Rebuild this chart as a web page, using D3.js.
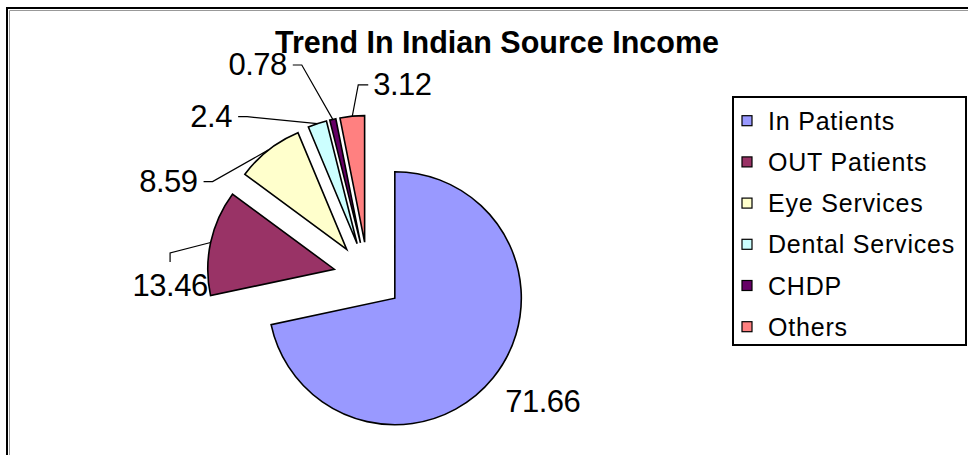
<!DOCTYPE html>
<html>
<head>
<meta charset="utf-8">
<script src="https://cdn.jsdelivr.net/npm/d3@7"></script>
<style>
  html, body { margin: 0; padding: 0; background: #fff; }
  svg { display: block; font-family: 'Liberation Sans', Arial, sans-serif; }
  .title { font-weight: bold; font-size: 30.5px; }
  .value-label { font-size: 31px; letter-spacing: -0.5px; }
  .legend-text { font-size: 25px; letter-spacing: 0.8px; }
</style>
</head>
<body>
<div id="chart"></div>
<script>
// chart data
const categories = ['In Patients', 'OUT Patients', 'Eye Services', 'Dental Services', 'CHDP', 'Others'];
const values = [71.66, 13.46, 8.59, 2.4, 0.78, 3.12];
const valueLabels = ['71.66', '13.46', '8.59', '2.4', '0.78', '3.12'];
const colors = ['#9999ff', '#993366', '#ffffcc', '#ccffff', '#660066', '#ff8080'];

// label placement relative to each slice's outer edge: dx, dy, text-anchor, leader side
const labelLayout = [
  [12, 34, 'start', 'none'],
  [-3, 53.5, 'end', 'top'],
  [-71, 41.7, 'end', 'right'],
  [-85.4, 3, 'end', 'right'],
  [-46, -44.4, 'end', 'right'],
  [21, -21.3, 'start', 'left']
];

const width = 968;
const height = 455;
const cx = 368;
const cy = 276.5;
const radius = 126.5;
const explode = 34.5;

const data = categories.map((c, i) => ({ name: c, value: values[i], color: colors[i], label: valueLabels[i] }));

const svg = d3.select('#chart')
  .append('svg')
  .attr('width', width)
  .attr('height', height);

svg.append('rect')
  .attr('width', width)
  .attr('height', height)
  .attr('fill', '#fff');

// chart area frame (only top/left visible)
svg.append('path')
  .attr('d', 'M7,' + height + 'V8H' + width)
  .attr('fill', 'none')
  .attr('stroke', '#000')
  .attr('stroke-width', 2);
svg.append('path')
  .attr('d', 'M9.5,' + height + 'V10.5H' + width)
  .attr('fill', 'none')
  .attr('stroke', '#999')
  .attr('stroke-width', 1);

svg.append('text')
  .attr('class', 'title')
  .attr('x', 497)
  .attr('y', 53)
  .attr('text-anchor', 'middle')
  .text('Trend In Indian Source Income');

const pie = d3.pie().sort(null).value(d => d.value);
const arcs = pie(data);
const arc = d3.arc().innerRadius(0).outerRadius(radius);
const edgeArc = d3.arc().innerRadius(radius).outerRadius(radius);

function shift (d) {
  const mid = (d.startAngle + d.endAngle) / 2;
  return [explode * Math.sin(mid), -explode * Math.cos(mid)];
}

const g = svg.append('g')
  .attr('transform', 'translate(' + cx + ',' + cy + ')');

g.selectAll('path.slice')
  .data(arcs)
  .enter()
  .append('path')
  .attr('class', 'slice')
  .attr('d', arc)
  .attr('transform', function (d) { return 'translate(' + shift(d) + ')'; })
  .attr('fill', d => d.data.color)
  .attr('stroke', '#000')
  .attr('stroke-width', 1.6)
  .attr('stroke-linejoin', 'miter');

// labels + leader lines
arcs.forEach(function (d, i) {
  const s = shift(d);
  const c = edgeArc.centroid(d);
  const ax = c[0] + s[0];
  const ay = c[1] + s[1];
  const lay = labelLayout[i];
  const tx = ax + lay[0];
  const ty = ay + lay[1];

  const t = g.append('text')
    .attr('class', 'value-label')
    .attr('x', tx)
    .attr('y', ty)
    .attr('text-anchor', lay[2])
    .text(d.data.label);

  const bb = t.node().getBBox();
  let pts = null;
  if (lay[3] === 'right') {
    const ex = bb.x + bb.width + 6;
    const ey = ty - 10;
    pts = [[ex, ey], [ex + 9, ey], [ax, ay]];
  } else if (lay[3] === 'left') {
    const ex = bb.x - 5;
    const ey = ty - 10;
    pts = [[ex, ey], [ex - 10, ey], [ax, ay]];
  } else if (lay[3] === 'top') {
    const ex = bb.x + bb.width / 2;
    const ey = ty - 34;
    pts = [[ex, ey], [ex, ey - 9], [ax, ay]];
  }
  if (pts) {
    g.append('path')
      .attr('d', d3.line()(pts))
      .attr('fill', 'none')
      .attr('stroke', '#000')
      .attr('stroke-width', 1.2);
  }
});

// legend
const legend = svg.append('g')
  .attr('transform', 'translate(733,97)');

legend.append('rect')
  .attr('width', 233)
  .attr('height', 248)
  .attr('fill', '#fff')
  .attr('stroke', '#000')
  .attr('stroke-width', 2);

const rows = legend.selectAll('g.row')
  .data(data)
  .enter()
  .append('g')
  .attr('class', 'row')
  .attr('transform', function (d, i) { return 'translate(0,' + (23.7 + i * 41.2) + ')'; });

rows.append('rect')
  .attr('x', 9)
  .attr('y', -5)
  .attr('width', 10)
  .attr('height', 10)
  .attr('fill', d => d.color)
  .attr('stroke', '#000')
  .attr('stroke-width', 1.2);

rows.append('text')
  .attr('class', 'legend-text')
  .attr('x', 35)
  .attr('y', 9)
  .text(d => d.name);
</script>
</body>
</html>
